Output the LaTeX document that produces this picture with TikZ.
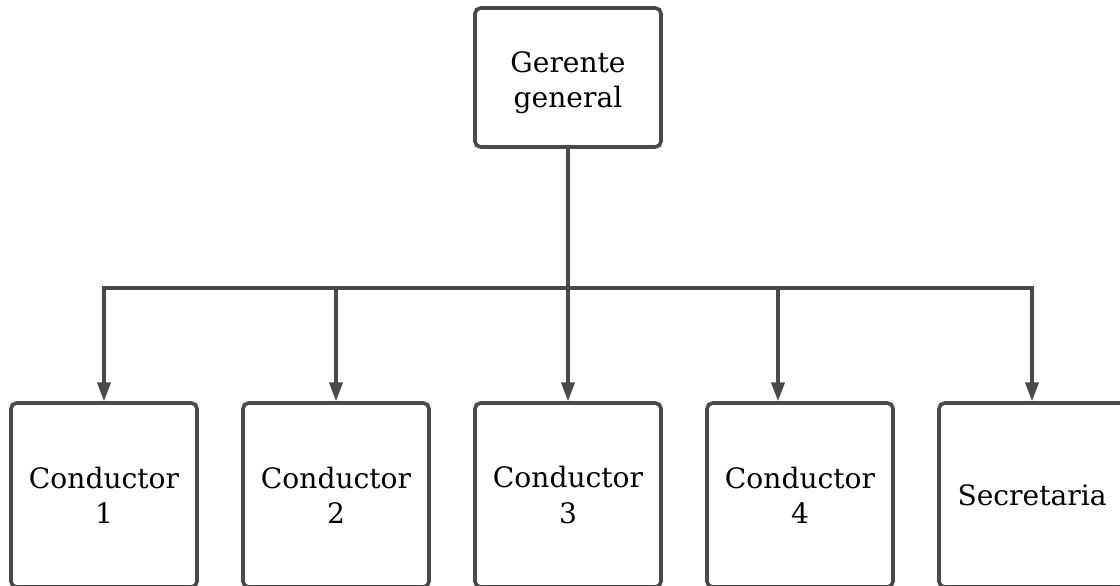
\documentclass[tikz,border=0pt]{standalone}
\usepackage{fontspec}
\setmainfont{DejaVu Serif}
\usetikzlibrary{arrows.meta,positioning}
\definecolor{linea}{HTML}{4A4A4A}

\begin{document}
\begin{tikzpicture}[
  puesto/.style={draw=linea,line width=2.6pt,rounded corners=4pt,minimum width=4.65cm,
    align=center,font=\fontsize{20}{25}\selectfont,inner sep=0pt},
  flecha/.style={draw=linea,line width=2.4pt,-{Triangle[length=4.7mm,width=3.3mm]}},
  tramo/.style={draw=linea,line width=2.4pt}]
  \useasboundingbox (0,0) rectangle (28,-14.625);
  \clip (0,0) rectangle (28,-14.625);
  \node[puesto,minimum height=3.475cm] (G) at (14.2,-1.9375) {\rule{0pt}{22pt}Gerente\\general};
  \node[puesto,minimum height=4.6cm] (C1) at (2.6,-12.375) {Conductor\\1};
  \node[puesto,minimum height=4.6cm] (C2) at (8.4,-12.375) {Conductor\\2};
  \node[puesto,minimum height=4.6cm] (C3) at (14.2,-12.375) {Conductor\\3};
  \node[puesto,minimum height=4.6cm] (C4) at (20.0,-12.375) {Conductor\\4};
  \node[puesto,minimum height=4.6cm] (S) at (25.8,-12.375) {Secretaria};
  \coordinate (bus) at (14.2,-7.2);
  \coordinate (bus4) at (19.45,-7.2);
  \draw[tramo] (G.south) -- (bus);
  \draw[tramo,line cap=rect] (C1.north |- bus) -- (S.north |- bus);
  \foreach \n in {C1,C2,C3,S}
    \draw[flecha] (\n.north |- bus) -- (\n.north);
  \draw[flecha] (bus4) -- (C4.north -| bus4);
\end{tikzpicture}
\end{document}
